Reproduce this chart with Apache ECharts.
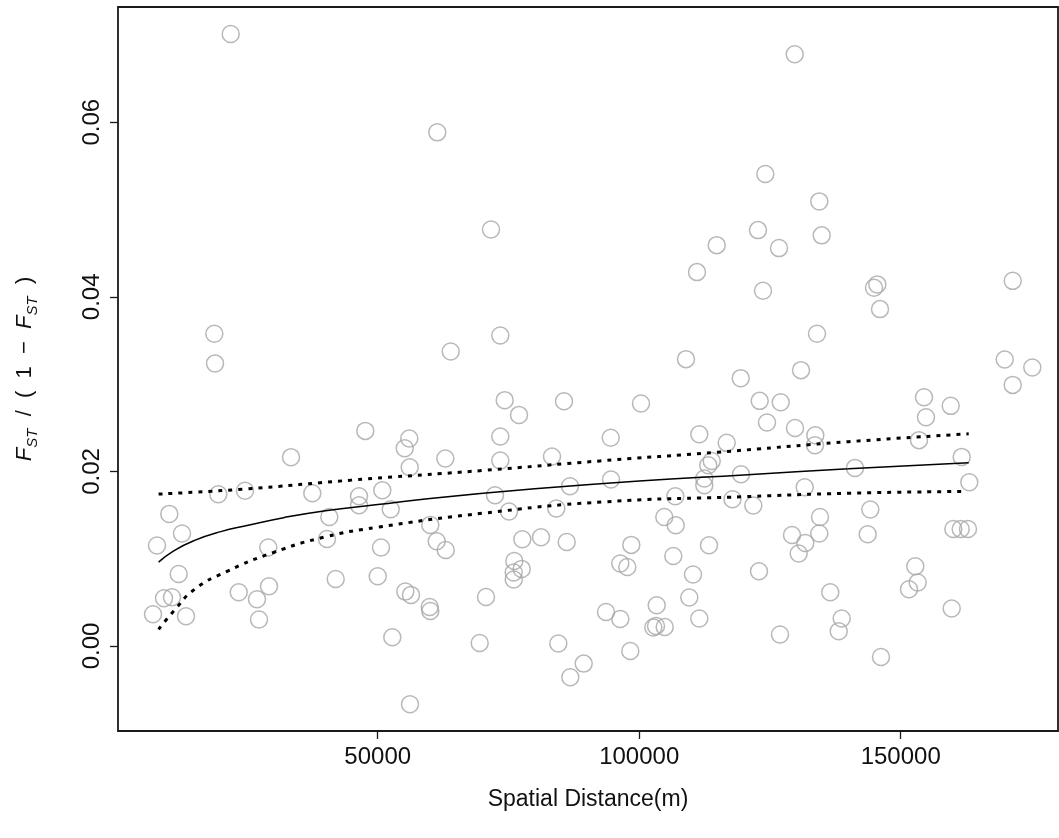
<!DOCTYPE html>
<html>
<head>
<meta charset="utf-8">
<script src="https://cdn.jsdelivr.net/npm/echarts@6/dist/echarts.min.js"></script>
<style>
html,body{margin:0;padding:0;background:#fff;}
#chart{width:1059px;height:838px;}
</style>
</head>
<body>
<div id="chart"></div>
<script>
// Spatial distance (m) of each pair
var distances = [21894,61396,71663,129730,124109,134434,122713,134893,114817,126729,
18758,18892,33423,47629,19523,24628,37496,46425,46425,73441,
63958,74282,77017,85621,56042,55162,73441,56118,62925,73441,
83326,86768,50880,72428,111050,123669,133994,108947,119406,130935,
100343,123038,127054,124434,129788,94550,111490,116729,133669,133612,
113861,113211,112446,112446,119463,94607,131642,106901,117838,141260,
145524,144893,146040,171412,169882,175160,171412,154453,159558,154835,
153497,161661,163114,10154,12582,7802,29083,40746,40306,11951,
9141,10670,7037,13347,23423,26922,29217,27305,41970,52486,
75105,84148,60057,61281,63002,50631,77648,81223,86137,76118,
77533,76003,76003,50000,55277,56367,59942,60057,70707,52792,
69502,84531,89387,86825,56176,93651,121815,104798,106978,98488,
96385,97724,106519,113345,110285,103345,109578,96385,111490,102695,
103211,104874,98297,122905,126920,129214,131757,130495,134568,134434,
136537,138717,138143,144185,143688,152789,153248,151585,159749,146231,
160055,161470,162865];
// FST/(1-FST) of each pair
var fstRatio = [0.07011,0.05884,0.04772,0.06778,0.05406,0.05093,0.04764,0.04704,0.04592,0.04558,
0.03576,0.03237,0.02163,0.02464,0.01739,0.01779,0.01750,0.01716,0.01613,0.03557,
0.03374,0.02816,0.02647,0.02804,0.02377,0.02266,0.02400,0.02048,0.02148,0.02125,
0.02171,0.01830,0.01784,0.01727,0.04283,0.04069,0.03576,0.03286,0.03068,0.03160,
0.02778,0.02808,0.02793,0.02560,0.02498,0.02386,0.02426,0.02327,0.02415,0.02300,
0.02120,0.02071,0.01919,0.01842,0.01968,0.01907,0.01819,0.01716,0.01681,0.02040,
0.04142,0.04103,0.03859,0.04183,0.03282,0.03191,0.02991,0.02850,0.02751,0.02621,
0.02358,0.02166,0.01876,0.01513,0.01288,0.01151,0.01128,0.01478,0.01226,0.00825,
0.00547,0.00558,0.00363,0.00340,0.00615,0.00535,0.00684,0.00303,0.00768,0.01567,
0.01540,0.01575,0.01387,0.01200,0.01100,0.01128,0.01223,0.01246,0.01192,0.00974,
0.00883,0.00841,0.00761,0.00799,0.00623,0.00585,0.00447,0.00401,0.00562,0.00100,
0.00034,0.00028,-0.00202,-0.00359,-0.00668,0.00390,0.01609,0.01478,0.01383,0.01158,
0.00944,0.00905,0.01031,0.01154,0.00818,0.00466,0.00555,0.00309,0.00314,0.00211,
0.00229,0.00218,-0.00057,0.00856,0.00131,0.01272,0.01180,0.01059,0.01478,0.01288,
0.00615,0.00314,0.00168,0.01563,0.01280,0.00913,0.00727,0.00650,0.00429,-0.00126,
0.01341,0.01341,0.01341];

// fitted curve and its confidence band
var fitX   = [8100, 11000, 15000, 20000, 25000, 32000, 40000, 50000, 60000, 80000, 100000, 120000, 140000, 163000];
var fitY   = [0.0096, 0.0109, 0.0121, 0.0131, 0.0138, 0.0147, 0.0155, 0.0162, 0.0169, 0.0180, 0.0189, 0.0196, 0.0203, 0.0210];
var upperX = [8100, 25000, 45000, 70000, 92500, 115000, 140000, 163000];
var upperY = [0.0174, 0.0180, 0.0190, 0.0201, 0.0212, 0.0222, 0.0234, 0.0243];
var lowerX = [8100, 11000, 15000, 21000, 30000, 40000, 50000, 70000, 93000, 120000, 140000, 162000];
var lowerY = [0.0019, 0.0040, 0.0065, 0.0085, 0.0107, 0.0125, 0.0136, 0.0152, 0.0165, 0.0171, 0.0175, 0.0177];

var xTicks = [50000, 100000, 150000];
var yTicks = [0, 0.02, 0.04, 0.06];

function zip(a, b) { return a.map(function (v, i) { return [v, b[i]]; }); }

var chart = echarts.init(document.getElementById('chart'), null, {renderer: 'canvas'});
var font = 'Liberation Sans, Arial, sans-serif';
chart.setOption({
  animation: false,
  backgroundColor: '#fff',
  grid: {left: 118, top: 7, right: 1, bottom: 107, show: true, borderColor: '#1a1a1a', borderWidth: 1.8, backgroundColor: 'transparent'},
  xAxis: {
    type: 'value', min: 344, max: 180073,
    axisLine: {show: false, onZero: false},
    splitLine: {show: false},
    axisTick: {show: true, inside: false, length: 8, lineStyle: {color: '#1a1a1a', width: 1.3}, customValues: xTicks},
    axisLabel: {customValues: xTicks, color: '#111', fontSize: 24, fontFamily: font, margin: 14,
      formatter: function (v) { return String(v); }},
    name: 'Spatial Distance(m)', nameLocation: 'middle', nameGap: 57,
    nameTextStyle: {fontSize: 23, color: '#111', fontFamily: font}
  },
  yAxis: {
    type: 'value', min: -0.00974, max: 0.0732,
    axisLine: {show: false, onZero: false},
    splitLine: {show: false},
    axisTick: {show: true, inside: false, length: 8, lineStyle: {color: '#1a1a1a', width: 1.3}, customValues: yTicks},
    axisLabel: {customValues: yTicks, rotate: 90, color: '#111', fontSize: 24, fontFamily: font, margin: 14,
      formatter: function (v) { return v.toFixed(2); }},
    name: '{i|F}{s|ST}{n|  /  (  1  \u2212  }{i|F}{s|ST}{n|  )}', nameLocation: 'middle', nameGap: 78, nameRotate: 90,
    nameTextStyle: {
      color: '#111', fontFamily: font, fontSize: 22,
      rich: {
        i: {fontStyle: 'italic', fontSize: 22, fontFamily: font, color: '#111', lineHeight: 30, verticalAlign: 'middle'},
        s: {fontStyle: 'italic', fontSize: 15, fontFamily: font, color: '#111', lineHeight: 30, verticalAlign: 'bottom'},
        n: {fontSize: 22, fontFamily: font, color: '#111', lineHeight: 30, verticalAlign: 'middle'}
      }
    }
  },
  series: [
    {
      type: 'scatter', data: zip(distances, fstRatio), symbol: 'circle', symbolSize: 17,
      itemStyle: {color: 'rgba(0,0,0,0)', borderColor: '#a6a6a6', borderWidth: 1.5}, z: 2
    },
    {
      type: 'line', data: zip(fitX, fitY), smooth: true, symbol: 'none',
      lineStyle: {color: '#000', width: 1.5}, z: 3
    },
    {
      type: 'line', data: zip(upperX, upperY), smooth: true, symbol: 'none',
      lineStyle: {color: '#000', width: 3, type: [4, 6]}, z: 3
    },
    {
      type: 'line', data: zip(lowerX, lowerY), smooth: true, symbol: 'none',
      lineStyle: {color: '#000', width: 3, type: [4, 6]}, z: 3
    }
  ]
});
</script>
</body>
</html>
